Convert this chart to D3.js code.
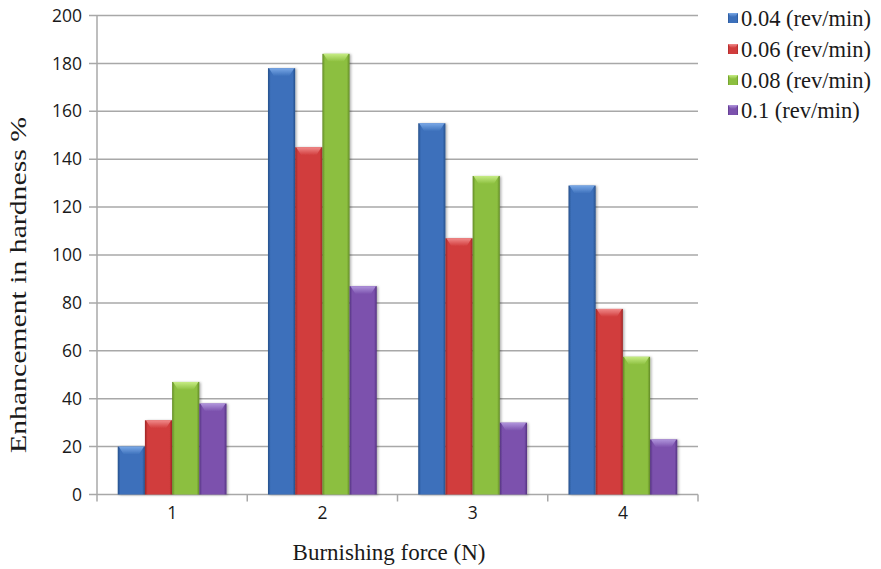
<!DOCTYPE html>
<html>
<head>
<meta charset="utf-8">
<script src="https://cdn.jsdelivr.net/npm/d3@7/dist/d3.min.js"></script>
<style>
  html, body { margin: 0; padding: 0; background: #ffffff; }
  svg { display: block; }
  .serif { font-family: "Liberation Serif", "Times New Roman", serif; }
</style>
</head>
<body>
<svg id="chart" width="881" height="569"></svg>
<script>
// Burnishing force categories and feed-rate series
const categories = ["1", "2", "3", "4"];
const seriesNames = ["0.04 (rev/min)", "0.06 (rev/min)", "0.08 (rev/min)", "0.1 (rev/min)"];
const values004 = [20, 178, 155, 129];
const values006 = [31, 145, 107, 77.5];
const values008 = [47, 184, 133, 57.5];
const values01  = [38, 87, 30, 23];
const yTicks = [0, 20, 40, 60, 80, 100, 120, 140, 160, 180, 200];

const seriesValues = [values004, values006, values008, values01];

// Bar palette: [edge, body, highlight]
const palette = [
  ["#264f8a", "#3c70bb", "#7aa8e6"],
  ["#9c2626", "#d13c3c", "#f08a8a"],
  ["#628a26", "#8cbf3f", "#c6ec84"],
  ["#543380", "#7b51ad", "#b095dc"]
];

const svg = d3.select("#chart");
const plotLeft = 97, plotRight = 698, plotTop = 15.5, plotBottom = 494.5;

const x0 = d3.scaleBand().domain(categories).range([plotLeft, plotRight]).paddingInner(0).paddingOuter(0);
const x1 = d3.scaleBand().domain(d3.range(seriesNames.length)).range([0, x0.bandwidth()])
  .paddingInner(0).paddingOuter(0.762);
const y = d3.scaleLinear().domain([0, 200]).range([plotBottom, plotTop]);

// Gradients for the rounded bar shading
const defs = svg.append("defs");
palette.forEach((c, i) => {
  const g = defs.append("linearGradient").attr("id", "body" + i)
    .attr("x1", "0").attr("x2", "1").attr("y1", "0").attr("y2", "0");
  g.append("stop").attr("offset", "0").attr("stop-color", c[0]);
  g.append("stop").attr("offset", "0.1").attr("stop-color", c[1]);
  g.append("stop").attr("offset", "0.9").attr("stop-color", c[1]);
  g.append("stop").attr("offset", "1").attr("stop-color", c[0]);
  const t = defs.append("linearGradient").attr("id", "cap" + i)
    .attr("x1", "0").attr("x2", "0").attr("y1", "0").attr("y2", "1");
  t.append("stop").attr("offset", "0").attr("stop-color", c[2]);
  t.append("stop").attr("offset", "1").attr("stop-color", c[1]);
});
const shadow = defs.append("filter").attr("id", "shadow")
  .attr("x", "-20%").attr("y", "-10%").attr("width", "150%").attr("height", "130%");
shadow.append("feDropShadow").attr("dx", 1.5).attr("dy", 0.5).attr("stdDeviation", 1.2)
  .attr("flood-color", "#000").attr("flood-opacity", 0.3);

// Horizontal gridlines (extend slightly left of the axis as tick marks)
svg.append("g").selectAll("line").data(yTicks).join("line")
  .attr("x1", plotLeft - 8).attr("x2", plotRight)
  .attr("y1", d => y(d)).attr("y2", d => y(d))
  .attr("stroke", "#a8a8a8").attr("stroke-width", 1.5);

// Y axis labels
const yAxis = d3.axisLeft(y).tickValues(yTicks).tickSize(0).tickPadding(15);
const ya = svg.append("g").attr("transform", `translate(${plotLeft},0)`).call(yAxis);
ya.select(".domain").remove();
ya.selectAll("text").attr("font-family", "'Open Sans', sans-serif").attr("font-size", 17.5)
  .attr("fill", "#1a1a1a");

// X axis labels and category tick marks
const xAxis = d3.axisBottom(x0).tickSize(0).tickPadding(12);
const xa = svg.append("g").attr("transform", `translate(0,${plotBottom})`).call(xAxis);
xa.select(".domain").remove();
xa.selectAll("text").attr("font-family", "'Open Sans', sans-serif").attr("font-size", 17.5)
  .attr("fill", "#1a1a1a");
svg.append("g").selectAll("line").data(categories).join("line")
  .attr("x1", d => x0(d) + x0.bandwidth()).attr("x2", d => x0(d) + x0.bandwidth())
  .attr("y1", plotBottom).attr("y2", plotBottom + 7)
  .attr("stroke", "#a8a8a8").attr("stroke-width", 1.5);

// Vertical axis line
svg.append("line").attr("x1", plotLeft).attr("x2", plotLeft).attr("y1", plotTop).attr("y2", plotBottom + 7)
  .attr("stroke", "#a8a8a8").attr("stroke-width", 1.5);

// Bars
const groups = svg.append("g").selectAll("g").data(categories).join("g")
  .attr("transform", d => `translate(${x0(d)},0)`);
groups.each(function(cat, ci) {
  const g = d3.select(this);
  seriesValues.forEach((vals, si) => {
    const v = vals[ci];
    const bx = x1(si), bw = x1.bandwidth();
    const by = y(v), bh = y(0) - y(v);
    const bar = g.append("g").attr("filter", "url(#shadow)");
    bar.append("rect").attr("x", bx).attr("y", by).attr("width", bw).attr("height", bh)
      .attr("fill", `url(#body${si})`);
    // bevelled top cap
    const capH = Math.min(8, bh);
    const inset = 6;
    bar.append("path")
      .attr("d", `M${bx + 1},${by} L${bx + bw - 1},${by} L${bx + bw - inset},${by + capH} L${bx + inset},${by + capH} Z`)
      .attr("fill", `url(#cap${si})`);
  });
});

// Legend
const legend = svg.append("g").attr("transform", "translate(728,0)");
const legendY = [18, 49, 80, 110];
seriesNames.forEach((name, i) => {
  const row = legend.append("g").attr("transform", `translate(0,${legendY[i]})`);
  row.append("rect").attr("x", 0).attr("y", -5).attr("width", 10).attr("height", 10)
    .attr("fill", `url(#body${i})`);
  row.append("path").attr("d", "M0,-5 L10,-5 L7,-1 L3,-1 Z").attr("fill", `url(#cap${i})`);
  row.append("text").attr("class", "serif").attr("x", 13).attr("y", 0).attr("dy", "0.35em")
    .attr("font-size", 22.5).attr("fill", "#1a1a1a").text(name);
});

// Axis titles
svg.append("text").attr("class", "serif").attr("x", 389).attr("y", 560).attr("text-anchor", "middle")
  .attr("font-size", 23).attr("fill", "#1a1a1a").text("Burnishing force (N)");

svg.append("text").attr("class", "serif").attr("transform", "translate(26,285) rotate(-90)")
  .attr("text-anchor", "middle").attr("font-size", 23)
  .attr("textLength", 336).attr("lengthAdjust", "spacingAndGlyphs")
  .attr("fill", "#1a1a1a").text("Enhancement in hardness  %");
</script>
</body>
</html>
